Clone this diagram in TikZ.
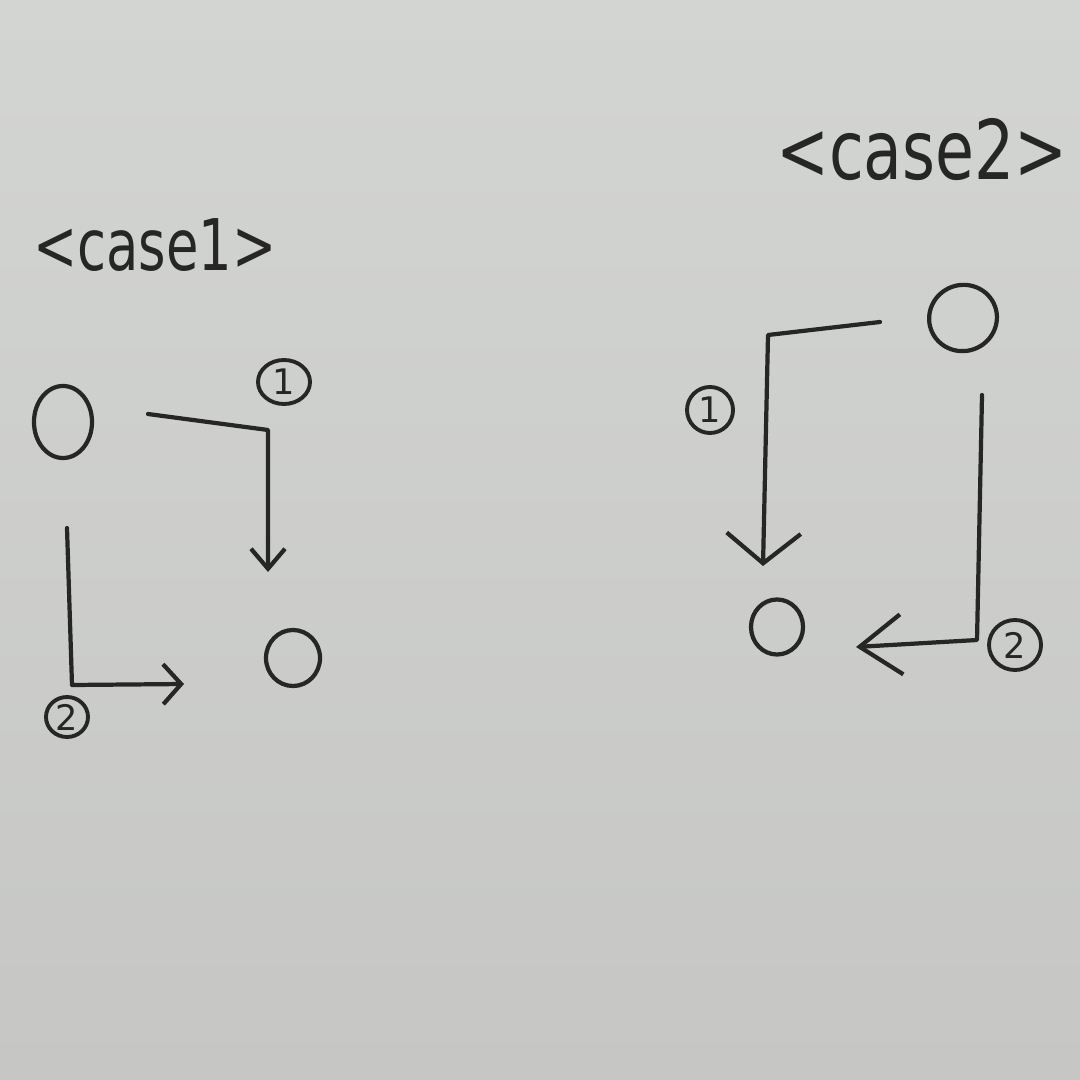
\documentclass[tikz,border=0pt]{standalone}
\usepackage{fontspec}
\setmainfont{DejaVu Sans}
\usepackage{tikz}
\usetikzlibrary{arrows.meta}
\usetikzlibrary{shapes.geometric}
\usepackage{xcolor}
\definecolor{boardhi}{RGB}{211,213,210}
\definecolor{boardlo}{RGB}{198,199,196}
\definecolor{ink}{RGB}{38,38,36}

\begin{document}
\begin{tikzpicture}[x=0.01cm,y=-0.01cm,
  pen/.style={ink,line width=1.2pt,line cap=round,line join=round},
  spot/.style={ellipse,draw=ink,line width=1.2pt,inner sep=0pt},
  tag/.style={ellipse,draw=ink,line width=1.1pt,inner sep=0pt,text=ink,font=\fontsize{10}{11}\selectfont},
  title/.style={text=ink,inner sep=0pt}]
  \useasboundingbox (0,0) rectangle (1080,1080);
  \shade[top color=boardhi,bottom color=boardlo] (0,0) rectangle (1080,1080);

  % case 1
  \node[title] (t1) at (155,245) {\scalebox{1}[1.35]{\fontsize{15}{17}\selectfont <case1>}};
  \node[spot,minimum width=0.58cm,minimum height=0.72cm] (a1) at (63,422) {};
  \node[spot,minimum width=0.54cm,minimum height=0.56cm] (b1) at (293,658) {};
  \node[tag,minimum width=0.52cm,minimum height=0.44cm] (n11) at (284,382) {1};
  \node[tag,minimum width=0.42cm,minimum height=0.40cm] (n12) at (67,717) {2};
  \coordinate (p11) at (148,414);
  \coordinate (p12) at (268,430);
  \coordinate (p13) at (268,572);
  \draw[pen,-{Straight Barb[length=0.2cm,width=0.34cm,line width=1.2pt]}] (p11) -- (p12) -- (p13);
  \coordinate (p21) at (67,528);
  \coordinate (p22) at (72,685);
  \coordinate (p23) at (184,684);
  \draw[pen,-{Straight Barb[length=0.18cm,width=0.40cm,line width=1.2pt]}] (p21) -- (p22) -- (p23);

  % case 2
  \node[title] (t2) at (922,150) {\scalebox{1}[1.3]{\fontsize{18}{20}\selectfont <case2>}};
  \node[spot,minimum width=0.68cm,minimum height=0.66cm,rotate=20] (a2) at (963,318) {};
  \node[spot,minimum width=0.52cm,minimum height=0.55cm] (b2) at (777,627) {};
  \node[tag,minimum width=0.46cm,minimum height=0.46cm] (n21) at (710,410) {1};
  \node[tag,minimum width=0.52cm,minimum height=0.50cm] (n22) at (1015,645) {2};
  \coordinate (q11) at (880,322);
  \coordinate (q12) at (768,335);
  \coordinate (q13) at (763,566);
  \draw[pen,-{Straight Barb[length=0.3cm,width=0.74cm,line width=1.2pt]}] (q11) -- (q12) -- (q13);
  \coordinate (q21) at (982,395);
  \coordinate (q22) at (977,640);
  \coordinate (q23) at (856,647);
  \draw[pen,-{Straight Barb[length=0.42cm,width=0.60cm,line width=1.2pt]}] (q21) -- (q22) -- (q23);

\end{tikzpicture}
\end{document}
